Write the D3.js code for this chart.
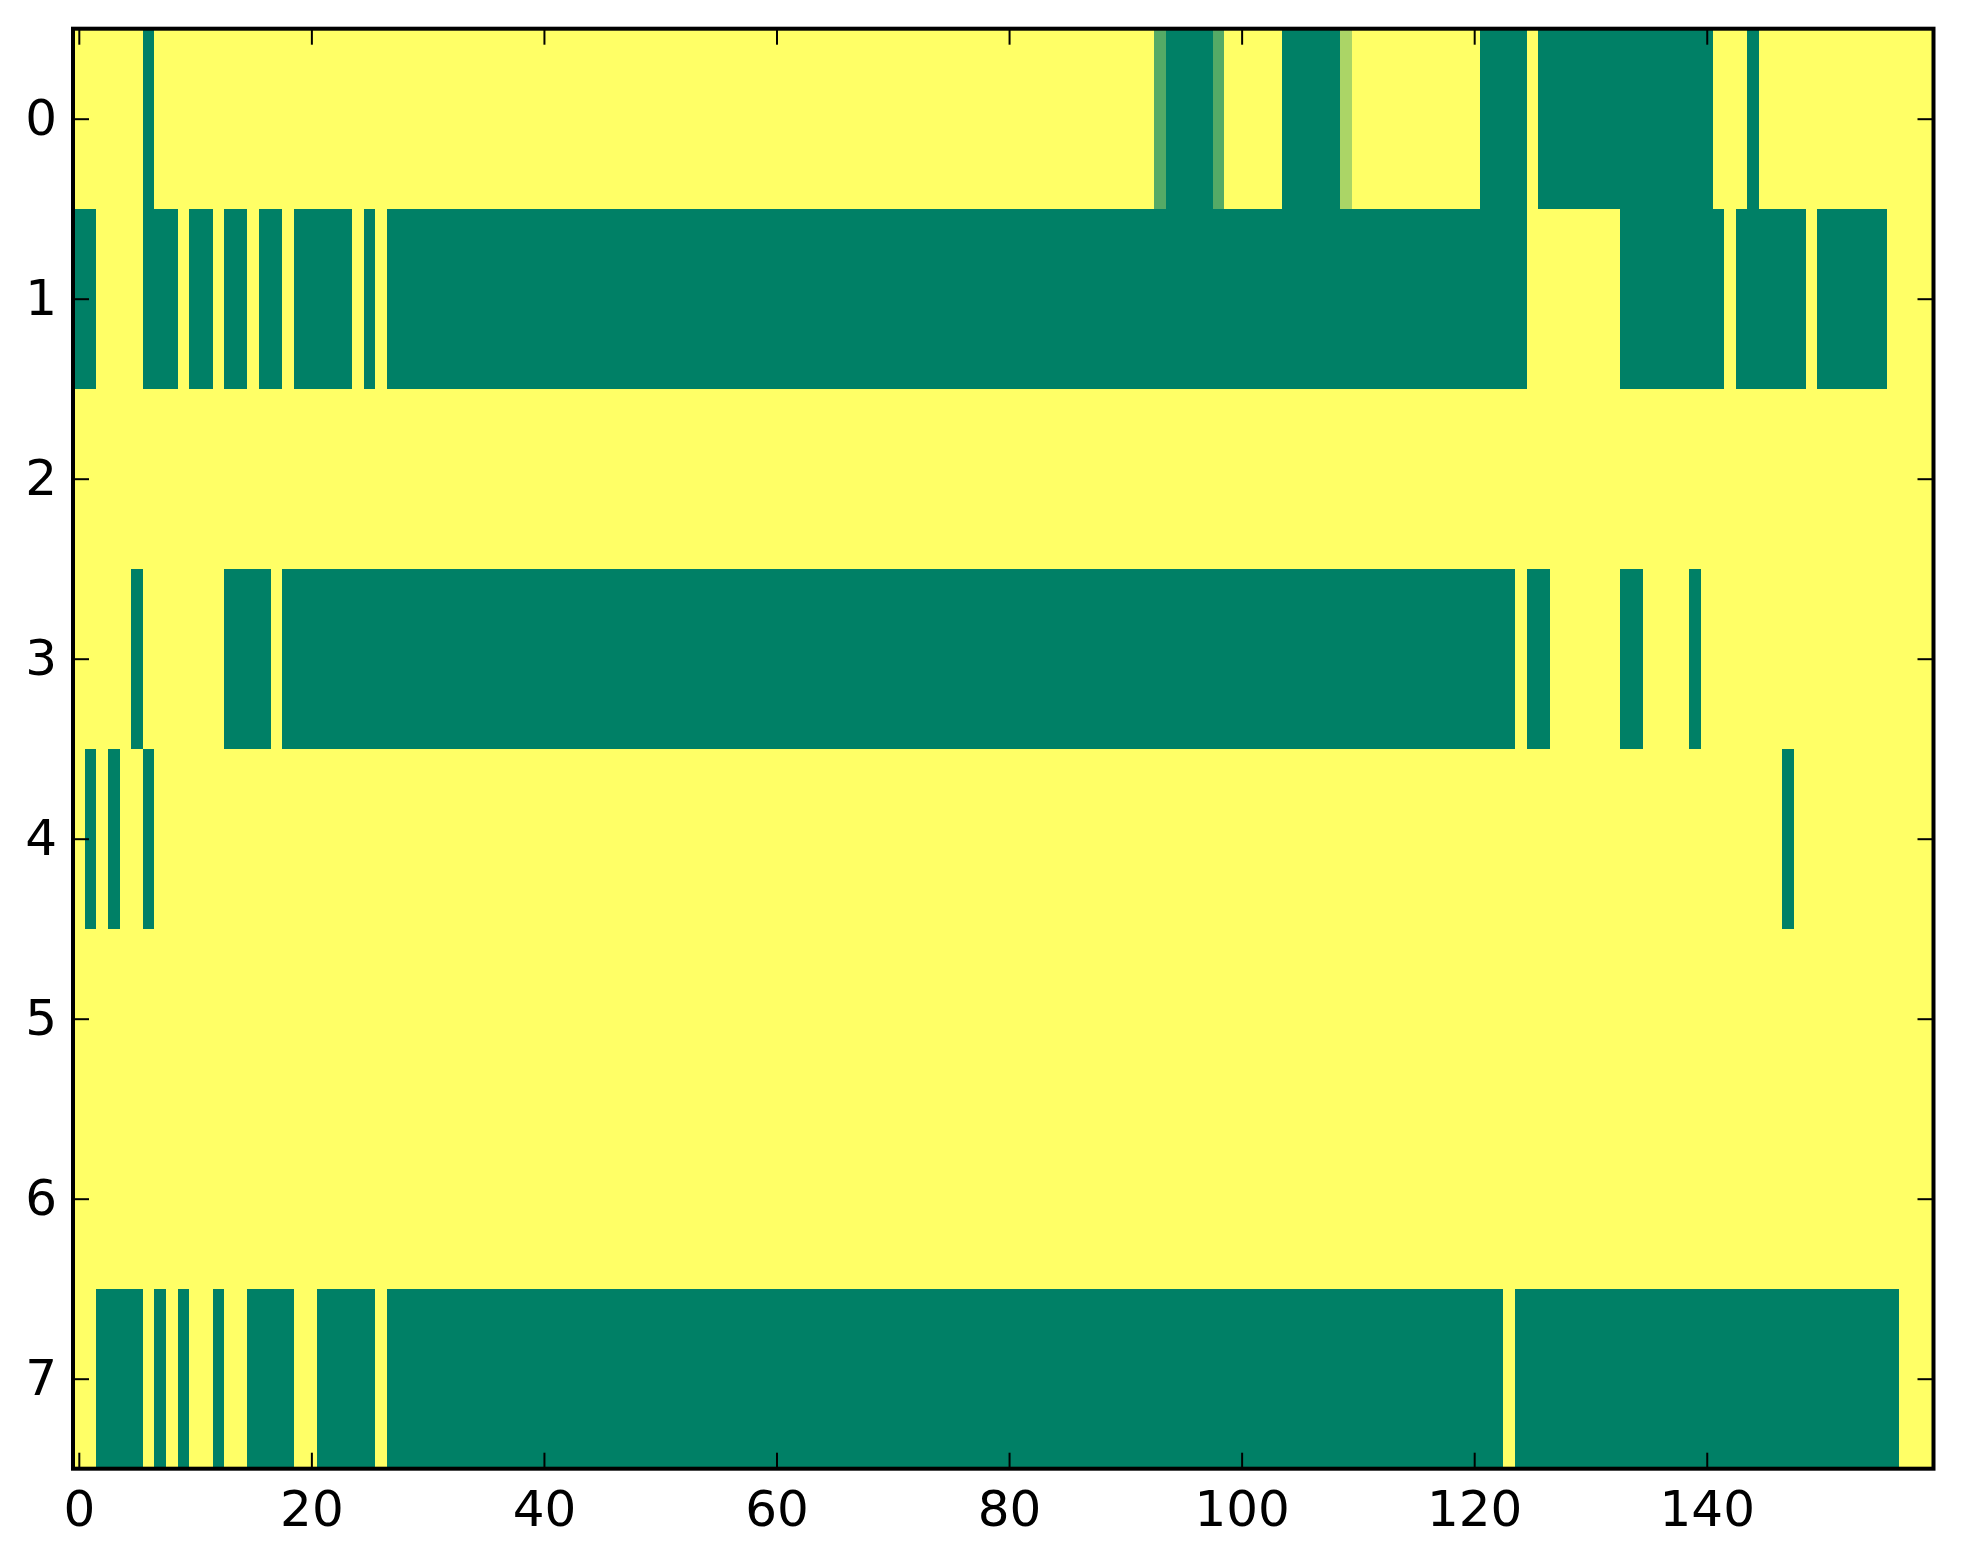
<!DOCTYPE html>
<html>
<head>
<meta charset="utf-8">
<script src="https://cdn.jsdelivr.net/npm/d3@7"></script>
<style>
  body { margin: 0; background: #fff; }
  text { font-family: "DejaVu Sans", sans-serif; }
</style>
</head>
<body>
<svg id="chart"></svg>
<script>
// row labels shown on the y axis
const rowLabels = [0, 1, 2, 3, 4, 5, 6, 7];
const xTicks = [0, 20, 40, 60, 80, 100, 120, 140];

// one value per column (0 = green, 1 = yellow), 160 columns per row
const row0 = [
  1,1,1,1,1,1,0,1,1,1,1,1,1,1,1,1,1,1,1,1,
  1,1,1,1,1,1,1,1,1,1,1,1,1,1,1,1,1,1,1,1,
  1,1,1,1,1,1,1,1,1,1,1,1,1,1,1,1,1,1,1,1,
  1,1,1,1,1,1,1,1,1,1,1,1,1,1,1,1,1,1,1,1,
  1,1,1,1,1,1,1,1,1,1,1,1,1,0.33,0,0,0,0,0.33,1,
  1,1,1,1,0,0,0,0,0,0.67,1,1,1,1,1,1,1,1,1,1,
  1,0,0,0,0,1,0,0,0,0,0,0,0,0,0,0,0,0,0,0,
  0,1,1,1,0,1,1,1,1,1,1,1,1,1,1,1,1,1,1,1
];
const row1 = [
  0,0,1,1,1,1,0,0,0,1,0,0,1,0,0,1,0,0,1,0,
  0,0,0,0,1,0,1,0,0,0,0,0,0,0,0,0,0,0,0,0,
  0,0,0,0,0,0,0,0,0,0,0,0,0,0,0,0,0,0,0,0,
  0,0,0,0,0,0,0,0,0,0,0,0,0,0,0,0,0,0,0,0,
  0,0,0,0,0,0,0,0,0,0,0,0,0,0,0,0,0,0,0,0,
  0,0,0,0,0,0,0,0,0,0,0,0,0,0,0,0,0,0,0,0,
  0,0,0,0,0,1,1,1,1,1,1,1,1,0,0,0,0,0,0,0,
  0,0,1,0,0,0,0,0,0,1,0,0,0,0,0,0,1,1,1,1
];
const row2 = [
  1,1,1,1,1,1,1,1,1,1,1,1,1,1,1,1,1,1,1,1,
  1,1,1,1,1,1,1,1,1,1,1,1,1,1,1,1,1,1,1,1,
  1,1,1,1,1,1,1,1,1,1,1,1,1,1,1,1,1,1,1,1,
  1,1,1,1,1,1,1,1,1,1,1,1,1,1,1,1,1,1,1,1,
  1,1,1,1,1,1,1,1,1,1,1,1,1,1,1,1,1,1,1,1,
  1,1,1,1,1,1,1,1,1,1,1,1,1,1,1,1,1,1,1,1,
  1,1,1,1,1,1,1,1,1,1,1,1,1,1,1,1,1,1,1,1,
  1,1,1,1,1,1,1,1,1,1,1,1,1,1,1,1,1,1,1,1
];
const row3 = [
  1,1,1,1,1,0,1,1,1,1,1,1,1,0,0,0,0,1,0,0,
  0,0,0,0,0,0,0,0,0,0,0,0,0,0,0,0,0,0,0,0,
  0,0,0,0,0,0,0,0,0,0,0,0,0,0,0,0,0,0,0,0,
  0,0,0,0,0,0,0,0,0,0,0,0,0,0,0,0,0,0,0,0,
  0,0,0,0,0,0,0,0,0,0,0,0,0,0,0,0,0,0,0,0,
  0,0,0,0,0,0,0,0,0,0,0,0,0,0,0,0,0,0,0,0,
  0,0,0,0,1,0,0,1,1,1,1,1,1,0,0,1,1,1,1,0,
  1,1,1,1,1,1,1,1,1,1,1,1,1,1,1,1,1,1,1,1
];
const row4 = [
  1,0,1,0,1,1,0,1,1,1,1,1,1,1,1,1,1,1,1,1,
  1,1,1,1,1,1,1,1,1,1,1,1,1,1,1,1,1,1,1,1,
  1,1,1,1,1,1,1,1,1,1,1,1,1,1,1,1,1,1,1,1,
  1,1,1,1,1,1,1,1,1,1,1,1,1,1,1,1,1,1,1,1,
  1,1,1,1,1,1,1,1,1,1,1,1,1,1,1,1,1,1,1,1,
  1,1,1,1,1,1,1,1,1,1,1,1,1,1,1,1,1,1,1,1,
  1,1,1,1,1,1,1,1,1,1,1,1,1,1,1,1,1,1,1,1,
  1,1,1,1,1,1,1,0,1,1,1,1,1,1,1,1,1,1,1,1
];
const row5 = row2.slice();
const row6 = row2.slice();
const row7 = [
  1,1,0,0,0,0,1,0,1,0,1,1,0,1,1,0,0,0,0,1,
  1,0,0,0,0,0,1,0,0,0,0,0,0,0,0,0,0,0,0,0,
  0,0,0,0,0,0,0,0,0,0,0,0,0,0,0,0,0,0,0,0,
  0,0,0,0,0,0,0,0,0,0,0,0,0,0,0,0,0,0,0,0,
  0,0,0,0,0,0,0,0,0,0,0,0,0,0,0,0,0,0,0,0,
  0,0,0,0,0,0,0,0,0,0,0,0,0,0,0,0,0,0,0,0,
  0,0,0,1,0,0,0,0,0,0,0,0,0,0,0,0,0,0,0,0,
  0,0,0,0,0,0,0,0,0,0,0,0,0,0,0,0,0,1,1,1
];

const rows = [row0, row1, row2, row3, row4, row5, row6, row7];

const width = 1963;
const height = 1564;
const plotLeft = 73, plotRight = 1933.5, plotTop = 28.7, plotBottom = 1468.7;
const nCols = row0.length;

const svg = d3.select("#chart")
  .attr("width", width)
  .attr("height", height);

const x = d3.scaleLinear().domain([-0.5, nCols - 0.5]).range([plotLeft, plotRight]);
const y = d3.scaleLinear().domain([-0.5, rows.length - 0.5]).range([plotTop, plotBottom]);

// matplotlib "summer" colormap, linear in RGB
const color = d3.scaleLinear()
  .domain([0, 1])
  .range(["#008066", "#ffff66"])
  .interpolate(d3.interpolateRgb);

const cells = [];
rows.forEach((r, ri) => r.forEach((v, ci) => cells.push({ row: ri, col: ci, value: v })));

svg.append("g")
  .attr("shape-rendering", "crispEdges")
  .selectAll("rect")
  .data(cells)
  .enter().append("rect")
  .attr("x", d => x(d.col - 0.5))
  .attr("y", d => y(d.row - 0.5))
  .attr("width", d => x(d.col + 0.5) - x(d.col - 0.5) + 0.5)
  .attr("height", d => y(d.row + 0.5) - y(d.row - 0.5) + 0.5)
  .attr("fill", d => color(d.value));

const tickLen = 16;

function styleAxis(g) {
  g.select(".domain").remove();
  g.selectAll(".tick line").attr("stroke", "#000").attr("stroke-width", 2);
  g.selectAll(".tick text").attr("font-size", 50).attr("fill", "#000")
    .attr("font-family", "DejaVu Sans, sans-serif");
}

svg.append("g")
  .attr("transform", `translate(0,${plotBottom})`)
  .call(d3.axisBottom(x).tickValues(xTicks).tickSizeInner(-tickLen).tickSizeOuter(0).tickPadding(22))
  .call(styleAxis);

svg.append("g")
  .attr("transform", `translate(0,${plotTop})`)
  .call(d3.axisTop(x).tickValues(xTicks).tickSizeInner(-tickLen).tickSizeOuter(0).tickFormat(""))
  .call(styleAxis);

svg.append("g")
  .attr("transform", `translate(${plotLeft},0)`)
  .call(d3.axisLeft(y).tickValues(rowLabels).tickSizeInner(-tickLen).tickSizeOuter(0).tickPadding(16))
  .call(styleAxis);

svg.append("g")
  .attr("transform", `translate(${plotRight},0)`)
  .call(d3.axisRight(y).tickValues(rowLabels).tickSizeInner(-tickLen).tickSizeOuter(0).tickFormat(""))
  .call(styleAxis);

// frame
svg.append("rect")
  .attr("x", plotLeft)
  .attr("y", plotTop)
  .attr("width", plotRight - plotLeft)
  .attr("height", plotBottom - plotTop)
  .attr("fill", "none")
  .attr("stroke", "#000")
  .attr("stroke-width", 4);
</script>
</body>
</html>
